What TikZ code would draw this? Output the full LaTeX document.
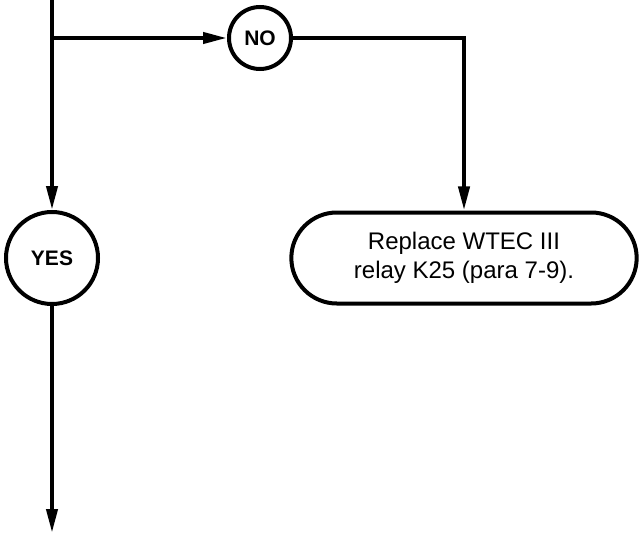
\documentclass[tikz,border=0pt]{standalone}
\usepackage{fontspec}
\setmainfont{Liberation Sans}
\usetikzlibrary{arrows.meta,shapes.misc}
\begin{document}
\begin{tikzpicture}[x=1pt,y=-1pt,line width=4pt,>={Triangle[length=24pt,width=11pt]},
  answer/.style={draw, circle, inner sep=0pt, font=\bfseries\fontsize{21}{24}\selectfont},
  action/.style={draw, rounded rectangle, align=center, minimum width=352pt, minimum height=91pt, font=\fontsize{24}{29}\selectfont}]
\useasboundingbox (0,0) rectangle (642,535);
\coordinate (top) at (52,0);
\coordinate (split) at (52,38);
\coordinate (out) at (52,533);
\node[answer, minimum size=62pt] (no) at (260,38) {NO};
\node[answer, minimum size=92pt] (yes) at (52,258) {YES};
\node[action] (fix) at (464,258) {Replace WTEC III\\relay K25 (para 7-9).};
\draw[->] (top) -- (yes);
\draw[->] (split) -- (no);
\draw[->] (no) -| (fix);
\draw[->] (yes) -- (out);
\end{tikzpicture}
\end{document}
